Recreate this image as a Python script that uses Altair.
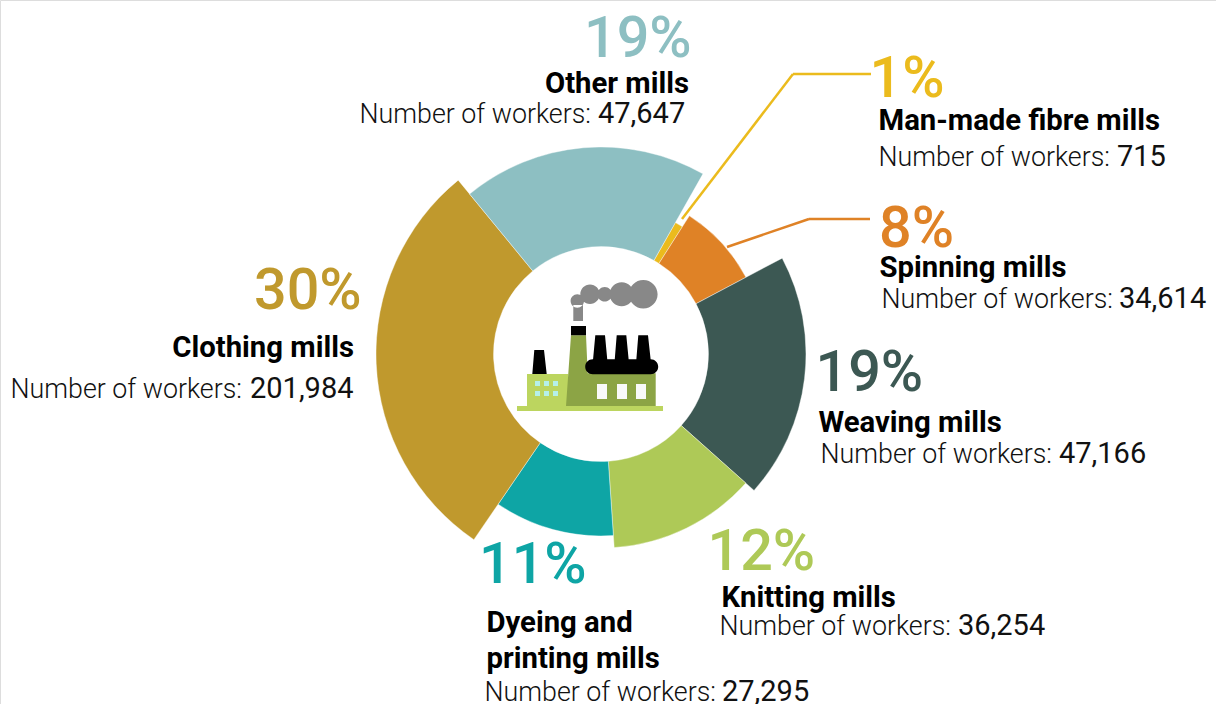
import altair as alt
import pandas as pd

# Textile mill employment, listed clockwise around the ring
sectors = ["Man-made fibre mills", "Spinning mills", "Weaving mills", "Knitting mills",
           "Dyeing and printing mills", "Clothing mills", "Other mills"]
shares = [0.86, 8.2, 19.33, 12.33, 10.64, 29.5, 19.14]
workers = [715, 34614, 47166, 36254, 27295, 201984, 47647]
depths = [151, 164, 205, 194, 182, 225, 207]
colours = ["#EBBB1D", "#DF8226", "#3C5853", "#AEC957", "#0EA5A5", "#C0992D", "#8DBFC2"]

CX, CY, HOLE = 601, 354, 107.5
START = 0.515  # radians clockwise from north where the first sector begins
TWO_PI = 6.283185307

ends = pd.Series(shares).cumsum()
ring = pd.DataFrame({
    "sector": sectors, "share": shares, "workers": workers, "depth": depths,
    "start": ends - pd.Series(shares), "end": ends,
})

arcs = alt.Chart(ring).mark_arc(innerRadius=HOLE, stroke="white", strokeWidth=0.4).encode(
    x=alt.value(CX),
    y=alt.value(CY),
    theta=alt.Theta("start:Q", scale=alt.Scale(domain=[0, 100], range=[START, START + TWO_PI])),
    theta2="end:Q",
    radius=alt.Radius("depth:Q", scale=alt.Scale(domain=[0, 225], range=[0, 225])),
    color=alt.Color("sector:N", scale=alt.Scale(domain=sectors, range=colours), legend=None),
)

blank = alt.Chart(pd.DataFrame({"a": [0]}))


def text(x, y, label, size, colour="black", weight=400, align="left"):
    return blank.mark_text(font="Roboto", fontSize=size, fontWeight=weight, color=colour,
                           align=align, baseline="alphabetic").encode(
        x=alt.value(x), y=alt.value(y), text=alt.value(label))


def segment(points, colour, width=2.5):
    return [blank.mark_rule(color=colour, strokeWidth=width).encode(
        x=alt.value(a[0]), y=alt.value(a[1]), x2=alt.value(b[0]), y2=alt.value(b[1]))
        for a, b in zip(points, points[1:])]


def block(i, pct_xy, name_lines, count_xy, value_x):
    parts = [text(pct_xy[0], pct_xy[1], f"{round(shares[i])}%", 57.5, colours[i], 500)]
    for x, y, line, align in name_lines:
        parts.append(text(x, y, line, 29.3, "black", 700, align))
    parts.append(text(count_xy[0], count_xy[1], "Number of workers:", 26.8, "#111111", 300))
    parts.append(text(value_x, count_xy[1], f"{workers[i]:,}", 29, "#111111", 400))
    return parts


labels = (
    block(0, (869.5, 96.5), [(878.5, 130, "Man-made fibre mills", "left")], (878.5, 166), 1117)
    + block(1, (879, 246.5), [(879.5, 277, "Spinning mills", "left")], (881.5, 308), 1119)
    + block(2, (815.5, 390.5), [(818.5, 432, "Weaving mills", "left")], (820.5, 463), 1059)
    + block(3, (707.5, 569.5), [(721.5, 607, "Knitting mills", "left")], (719.5, 635), 958)
    + block(4, (479, 582.5), [(486.5, 632, "Dyeing and", "left"), (486.5, 667.5, "printing mills", "left")], (484.5, 701), 722)
    + block(5, (254, 308.5), [(354, 357, "Clothing mills", "right")], (10.5, 398), 250)
    + block(6, (584, 56.5), [(689, 93, "Other mills", "right")], (359.5, 123), 598)
)

leaders = (segment([(682, 219), (793, 74), (871, 74)], colours[0])
           + segment([(727, 247), (809, 219), (870, 219)], colours[1]))


def shape(path, colour):
    # Custom symbols at size 4 draw their path at one pixel per unit
    return blank.mark_point(shape=path, size=4, filled=True, fill=colour, stroke=None, opacity=1).encode(
        x=alt.value(0), y=alt.value(0))


def disc(x, y, r):
    return f"M{x - r},{y}A{r},{r} 0 1,0 {x + r},{y}A{r},{r} 0 1,0 {x - r},{y}Z"


def box(x0, y0, x1, y1):
    return f"M{x0},{y0}L{x1},{y0}L{x1},{y1}L{x0},{y1}Z"


def funnel(x0, x1, y0, xb0, xb1, y1):
    return f"M{x0},{y0}L{x1},{y0}L{xb1},{y1}L{xb0},{y1}Z"


smoke = box(573.3, 305, 583, 321) + disc(577.3, 301, 6.7) + disc(590, 294.3, 9.7) \
    + disc(604.7, 294.3, 7.3) + disc(621.7, 294.3, 12) + disc(643.3, 294.3, 14.3)
pale = box(517, 406, 663, 411) + box(527, 374, 568.3, 406)
glass = "".join(box(x, y, x + 5, y + 5) for x in (535, 544, 553) for y in (381, 391))
works = "M571,335.3L586,335.3L587.7,373.3L655.7,373.3L655.7,406L566,406Z"
soot = funnel(534.3, 544, 350, 532.3, 546.7, 374) + box(571, 326, 586, 335.3) \
    + funnel(595.3, 605, 335.3, 593, 607.3, 360) + funnel(616.7, 626.3, 335.3, 614.7, 628.7, 360) \
    + funnel(638.3, 648, 335.3, 636.3, 650.7, 360) \
    + "M592.7,359.3L650.7,359.3A7.5,7.5 0 0,1 650.7,374.3L592.7,374.3A7.5,7.5 0 0,1 592.7,359.3Z"
panes = "".join(box(x, 384, x + 10, 399) for x in (597, 617, 636))

icon = [shape(smoke, "#888888"), shape(pale, "#BCD55F"), shape(glass, "#B5F0E8"),
        shape(works, "#8CA445"), shape(soot, "#000000"), shape(panes, "#F9F9F9")]

chart = alt.layer(arcs, *leaders, *icon, *labels).properties(
    width=1216, height=704, padding=0, autosize=alt.AutoSizeParams(type="none"),
).configure_view(stroke=None).configure(background="white")

chart.save("out.html", embed_options={"renderer": "svg", "actions": False})
